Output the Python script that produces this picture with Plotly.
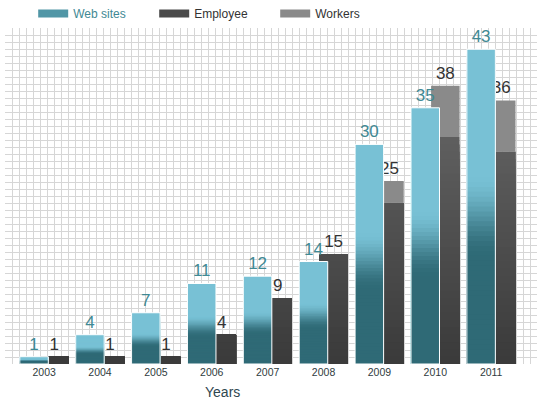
import plotly.graph_objects as go

# ---- data ----
years = ['2003', '2004', '2005', '2006', '2007', '2008', '2009', '2010', '2011']
web_sites = [1, 4, 7, 11, 12, 14, 30, 35, 43]
employee = [1, 1, 1, 4, 9, 15, 22, 31, 29]
workers = [0, 0, 0, 0, 0, 0, 3, 7, 7]
series_names = ['Web sites', 'Employee', 'Workers']

FONT = 'Liberation Sans, Arial, sans-serif'
WEB_LIGHT = (0x78, 0xc1, 0xd5)
WEB_DARK = (0x2f, 0x6a, 0x76)
EMP_DARK = (0x3a, 0x3a, 0x3a)
EMP_LIGHT = (0x5f, 0x5f, 0x5f)
WORK_COL = '#8a8a8a'
WEB_TXT = '#3f8994'

W = 0.51
WEB_OFF = -0.435
EMP_OFF = -0.075


def mix(c1, c2, t):
    t = max(0.0, min(1.0, t))
    return 'rgb(%d,%d,%d)' % tuple(round(a + (b - a) * t) for a, b in zip(c1, c2))


def smooth(t):
    t = max(0.0, min(1.0, t))
    return t * t * (3 - 2 * t)


fig = go.Figure()

# invisible trace for the grid axes
fig.add_trace(go.Scatter(x=[None], y=[None], xaxis='x', yaxis='y',
                         showlegend=False, hoverinfo='skip'))

# ---- Employee (value-based vertical gradient, nested bars from the base) ----
band = 1
emax = max(employee)
for hi in range(emax, 0, -band):
    ys = [min(e, hi) for e in employee]
    col = mix(EMP_DARK, EMP_LIGHT, (hi - band / 2) / emax)
    fig.add_trace(go.Bar(
        x=years, y=ys, xaxis='x2', yaxis='y2',
        width=W, offset=EMP_OFF,
        marker=dict(color=col, line=dict(width=0)),
        showlegend=False, hoverinfo='skip'))

# ---- Workers (stacked on employee) ----
fig.add_trace(go.Bar(
    x=years, y=[w if w else None for w in workers],
    base=[e if w else None for e, w in zip(employee, workers)],
    xaxis='x2', yaxis='y2', width=W, offset=EMP_OFF,
    marker=dict(color=WORK_COL, line=dict(width=0)),
    showlegend=False, hoverinfo='skip'))

# ---- Employee + Workers total labels ----
totals = [e + w for e, w in zip(employee, workers)]
fig.add_trace(go.Bar(
    x=years, y=totals, xaxis='x2', yaxis='y2', width=W, offset=EMP_OFF,
    marker=dict(color='rgba(0,0,0,0)', line=dict(width=0)),
    text=[str(t) for t in totals], textposition='outside',
    textfont=dict(family=FONT, size=17, color='#333333'),
    cliponaxis=False, showlegend=False, hoverinfo='skip'))

# ---- Web sites (per-bar vertical gradient, nested bars from the base) ----
N = 64
for k in range(N):
    frac = (N - k) / N                      # height fraction of this layer
    ys = [v * frac for v in web_sites]
    t_top = 1 - (frac - 0.5 / N)            # distance from top of the band centre
    col = mix(WEB_LIGHT, WEB_DARK, smooth((t_top - 0.40) / 0.26))
    fig.add_trace(go.Bar(
        x=years, y=ys, xaxis='x2', yaxis='y2',
        width=W, offset=WEB_OFF,
        marker=dict(color=col, line=dict(width=0)),
        showlegend=False, hoverinfo='skip'))

# outline + labels for Web sites
fig.add_trace(go.Bar(
    x=years, y=web_sites, xaxis='x2', yaxis='y2', width=W, offset=WEB_OFF,
    marker=dict(color='rgba(0,0,0,0)', line=dict(width=1, color='white')),
    text=[str(v) for v in web_sites], textposition='outside',
    textfont=dict(family=FONT, size=17, color=WEB_TXT),
    cliponaxis=False, showlegend=False, hoverinfo='skip'))

# ---- legend entries (wide rectangular swatches) ----
legend_cols = ['#5196a6', '#4a4a4a', WORK_COL]
legend_labels = ["<span style='color:%s'>%s</span>" % (WEB_TXT, series_names[0]),
                 series_names[1], series_names[2]]
for i, (lab, c) in enumerate(zip(legend_labels, legend_cols)):
    fig.add_trace(go.Scatter(
        x=[None], y=[None], xaxis='x2', yaxis='y2', mode='lines',
        line=dict(color=c, width=8), name=lab, legendrank=i + 1,
        hoverinfo='skip'))

fig.update_layout(
    width=550, height=400,
    margin=dict(l=5, r=13, t=28, b=36, autoexpand=False),
    paper_bgcolor='white', plot_bgcolor='white',
    barmode='overlay',
    font=dict(family=FONT, size=12, color='#333333'),
    xaxis=dict(range=[0, 76], dtick=1, showgrid=True, gridcolor='#d6d6d6',
               gridwidth=1, showticklabels=False, zeroline=False,
               showline=False, ticks=''),
    yaxis=dict(range=[0, 48], dtick=1, showgrid=True, gridcolor='#d6d6d6',
               gridwidth=1, showticklabels=False, zeroline=False,
               showline=False, ticks=''),
    xaxis2=dict(type='category', overlaying='x', anchor='y2', side='bottom',
                range=[-0.7, 8.82], showgrid=False, zeroline=False,
                showline=False, ticks='',
                tickfont=dict(family=FONT, size=10.5, color='#2f3b40')),
    yaxis2=dict(overlaying='y', anchor='x2', range=[0, 45.9], showgrid=False,
                zeroline=False, showticklabels=False, showline=False),
    legend=dict(orientation='h', x=0.053, xanchor='left', y=1.0,
                yanchor='bottom', entrywidth=76,
                font=dict(family=FONT, size=12, color='#333333'),
                bgcolor='rgba(0,0,0,0)'),
    annotations=[dict(text='Years', xref='paper', yref='paper',
                      x=0.408, y=-0.083, xanchor='center', yanchor='middle',
                      showarrow=False,
                      font=dict(family=FONT, size=14, color='#2f4750'))],
)

fig.write_html('out.html',
               config={'displayModeBar': False},
               post_script="document.body.style.margin='0px';"
                           "document.body.style.overflow='hidden';")
